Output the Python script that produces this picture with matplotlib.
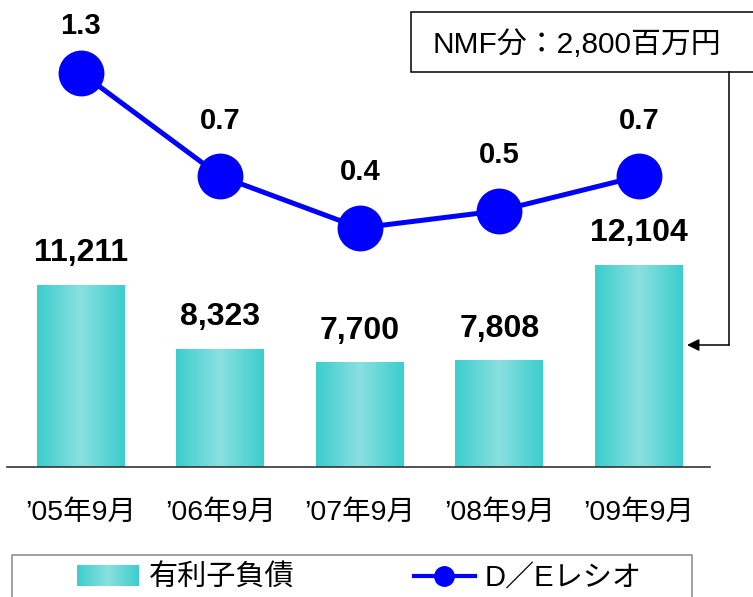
import numpy as np
import matplotlib
matplotlib.use("Agg")
import matplotlib.pyplot as plt
from matplotlib.colors import LinearSegmentedColormap
from matplotlib.patches import Rectangle, FancyArrowPatch
from matplotlib.lines import Line2D
from matplotlib.legend_handler import HandlerBase
from matplotlib.image import BboxImage
from matplotlib.transforms import Bbox, TransformedBbox

plt.rcParams['font.family'] = ['Liberation Sans', 'Noto Sans CJK JP', 'DejaVu Sans']

# data
periods = ["’05年9月", "’06年9月", "’07年9月", "’08年9月", "’09年9月"]
debt = [11211, 8323, 7700, 7808, 12104]       # 有利子負債 (百万円)
de_ratio = [1.3, 0.7, 0.4, 0.5, 0.7]          # D/Eレシオ
note_text = "NMF分：2,800百万円"

W, H = 753, 597
fig = plt.figure(figsize=(W / 100, H / 100), dpi=100)

def fx(px):
    return px / W

def fy(py):
    return 1 - py / H

ax = fig.add_axes([fx(7), fy(467), fx(710) - fx(7), 467 / H])
ax2 = ax.twinx()

edge_col = "#3ccdcd"
mid_col = "#8ae0e0"
grad_cmap = LinearSegmentedColormap.from_list("tealgrad", [edge_col, mid_col, edge_col])
grad = np.linspace(0, 1, 256).reshape(1, -1)

ax.set_xlim(-0.53, 4.51)
ax.set_ylim(3000, 24074)
ymin = ax.get_ylim()[0]

x = np.arange(len(periods))
bars = ax.bar(x, debt, width=0.63, color="none", edgecolor="none")
for b in bars:
    x0, w, top = b.get_x(), b.get_width(), b.get_y() + b.get_height()
    ax.imshow(grad, cmap=grad_cmap, aspect="auto", interpolation="bilinear",
              extent=[x0, x0 + w, ymin, top], zorder=2)

for xi, v in zip(x, debt):
    ax.annotate(f"{v:,}", (xi, v), xytext=(0, 23), textcoords="offset points",
                ha="center", va="center", fontsize=23, fontweight="bold")

ax.set_xlim(-0.53, 4.51)
ax.set_ylim(3000, 24074)
ax.set_yticks([])
ax.set_xticks(x, periods)
ax.tick_params(axis="x", length=0, pad=24, labelsize=20.5)
for s in ["top", "left", "right"]:
    ax.spines[s].set_visible(False)
ax.spines["bottom"].set_color("#333333")
ax.spines["bottom"].set_linewidth(1.2)

blue = "#0000ff"
ax2.plot(x, de_ratio, color=blue, linewidth=3.6, marker="o", markersize=32,
         markerfacecolor=blue, markeredgecolor=blue, zorder=3)
label_dy = [34, 40, 40, 40, 40]
for xi, r, dy in zip(x, de_ratio, label_dy):
    ax2.annotate(f"{r:.1f}", (xi, r), xytext=(0, dy), textcoords="offset points",
                 ha="center", va="center", fontsize=21, fontweight="bold")
ax2.set_ylim(-0.986, 1.722)
ax2.set_yticks([])
for s in ax2.spines.values():
    s.set_visible(False)

# note box with arrow
fig.add_artist(Rectangle((fx(411), fy(72)), fx(760) - fx(411), 60 / H,
                         transform=fig.transFigure, facecolor="white",
                         edgecolor="black", linewidth=1.1, clip_on=False))
fig.text(fx(432), fy(45), note_text, ha="left", va="center", fontsize=21.5)
fig.add_artist(Line2D([fx(729), fx(729)], [fy(72), fy(345)],
                      transform=fig.transFigure, color="black", linewidth=1.1))
fig.add_artist(FancyArrowPatch((fx(729), fy(345)), (fx(687), fy(345)),
                               transform=fig.transFigure, arrowstyle="-|>",
                               mutation_scale=18, color="black", linewidth=1.1,
                               shrinkA=0, shrinkB=0))


# legend
class GradientHandler(HandlerBase):
    def create_artists(self, legend, orig_handle, xdescent, ydescent,
                       width, height, fontsize, trans):
        bb = Bbox.from_bounds(-xdescent, -ydescent, width, height)
        img = BboxImage(TransformedBbox(bb, trans), cmap=grad_cmap,
                        interpolation="bilinear")
        img.set_data(grad)
        return [img]


fig.add_artist(Rectangle((fx(12), fy(610)), fx(692) - fx(12), 55 / H,
                         transform=fig.transFigure, facecolor="white",
                         edgecolor="#888888", linewidth=1.1, clip_on=False))
bar_proxy = Rectangle((0, 0), 1, 1)
line_proxy = Line2D([], [], color=blue, linewidth=3, marker="o", markersize=14)
fig.legend([bar_proxy, line_proxy], ["有利子負債", "D／Eレシオ"],
           handler_map={Rectangle: GradientHandler()},
           loc="center left", bbox_to_anchor=(fx(77), fy(578)),
           ncol=2, frameon=False, fontsize=21, borderpad=0, borderaxespad=0,
           handlelength=2.1, handleheight=0.68, handletextpad=0.35,
           columnspacing=4.1, numpoints=1)

fig.savefig("out.png", dpi=100)
